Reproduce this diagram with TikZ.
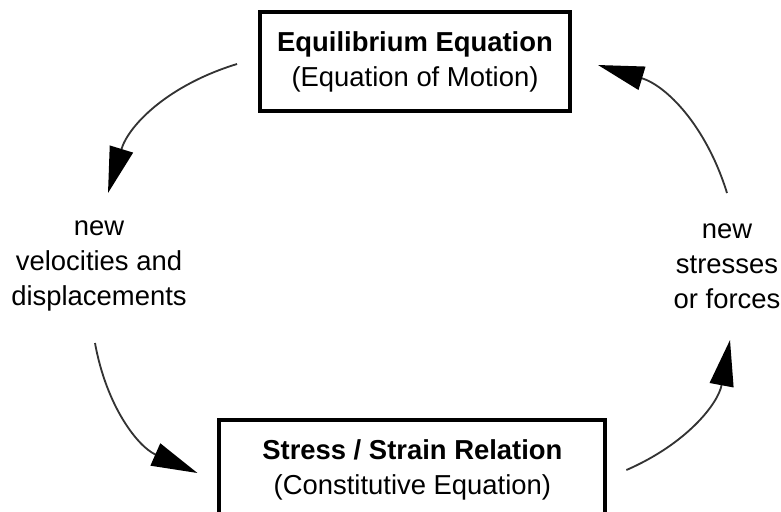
\documentclass[tikz,border=0pt]{standalone}
\usepackage{fontspec}
\setmainfont{Liberation Sans}
\usetikzlibrary{arrows.meta,positioning}

\begin{document}
\begin{tikzpicture}[
  every node/.style={font=\fontsize{19.5}{25}\selectfont},
  eqbox/.style={draw,line width=2.8pt,align=center,
                minimum width=7.75cm,minimum height=2.475cm},
  side/.style={align=center},
  flow/.style={-{Triangle[length=11.5mm,width=6mm,color=black]},
               line width=1.3pt,draw=black!80},
]
\useasboundingbox (0,0) rectangle (19.525,-12.775);
\clip (0,0) rectangle (19.525,-12.775);

%% the two equations
\node[eqbox] (equil) at (10.375,-1.54)
  {\bfseries Equilibrium Equation\\(Equation of Motion)};
\node[eqbox,minimum width=9.65cm] (const) at (10.31,-11.74)
  {\bfseries Stress / Strain Relation\\(Constitutive Equation)};

%% the quantities passed round the loop
\node[side] (vel) at (2.475,-6.65) {new\\velocities and\\displacements};
\node[side] (frc) at (18.175,-6.65) {new\\stresses\\or forces};

%% Arrows
\draw[flow] ([shift={(-0.525,-0.06)}]equil.west)
  to[bend right=28] ([shift={(0.225,1.825)}]vel.center);
\draw[flow] ([shift={(-0.1,-1.925)}]vel.center)
  to[bend right=28] ([shift={(-0.5,-0.085)}]const.west);
\draw[flow] ([shift={(0.475,-0.01)}]const.east)
  to[bend right=28] ([shift={(0.075,-1.85)}]frc.center);
\draw[flow] ([shift={(0,1.825)}]frc.center)
  to[bend right=28] ([shift={(0.65,-0.085)}]equil.east);

\end{tikzpicture}
\end{document}
